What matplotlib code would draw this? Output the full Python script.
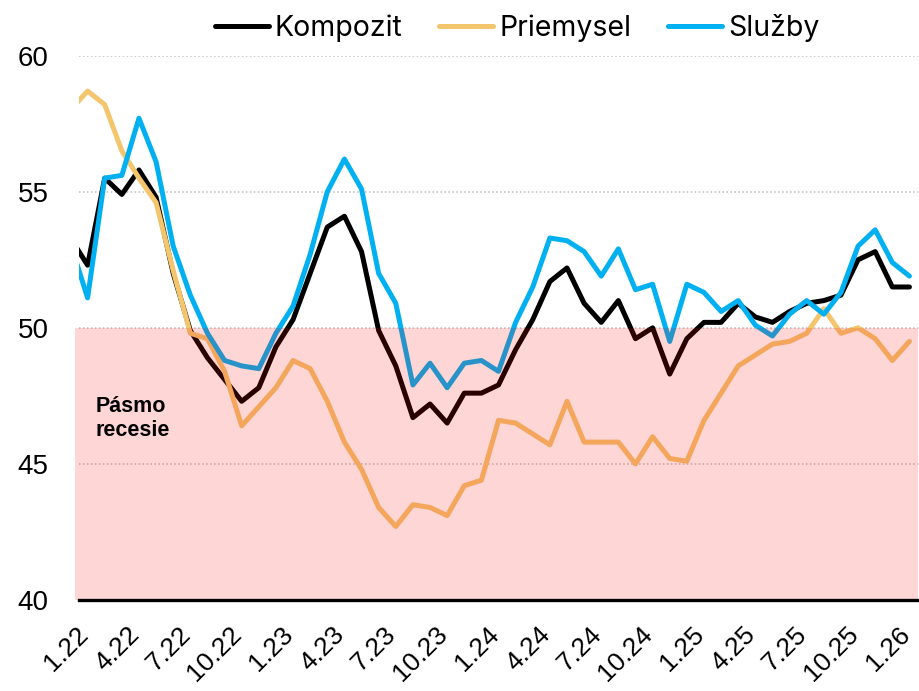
import matplotlib
matplotlib.use("Agg")
from matplotlib import pyplot as plt
from matplotlib.transforms import ScaledTranslation

# mesiace 12.21 .. 1.26 (prvy bod je za okrajom osi)
kompozit = [53.3,
            52.3, 55.5, 54.9, 55.8, 54.8, 52.0, 49.9, 48.9, 48.1, 47.3, 47.8, 49.3,
            50.3, 52.0, 53.7, 54.1, 52.8, 49.9, 48.6, 46.7, 47.2, 46.5, 47.6, 47.6,
            47.9, 49.2, 50.3, 51.7, 52.2, 50.9, 50.2, 51.0, 49.6, 50.0, 48.3, 49.6,
            50.2, 50.2, 50.9, 50.4, 50.2, 50.6, 50.9, 51.0, 51.2, 52.5, 52.8, 51.5,
            51.5]
priemysel = [58.0,
             58.7, 58.2, 56.5, 55.5, 54.6, 52.1, 49.8, 49.6, 48.4, 46.4, 47.1, 47.8,
             48.8, 48.5, 47.3, 45.8, 44.8, 43.4, 42.7, 43.5, 43.4, 43.1, 44.2, 44.4,
             46.6, 46.5, 46.1, 45.7, 47.3, 45.8, 45.8, 45.8, 45.0, 46.0, 45.2, 45.1,
             46.6, 47.6, 48.6, 49.0, 49.4, 49.5, 49.8, 50.7, 49.8, 50.0, 49.6, 48.8,
             49.5]
sluzby = [53.1,
          51.1, 55.5, 55.6, 57.7, 56.1, 53.0, 51.2, 49.8, 48.8, 48.6, 48.5, 49.8,
          50.8, 52.7, 55.0, 56.2, 55.1, 52.0, 50.9, 47.9, 48.7, 47.8, 48.7, 48.8,
          48.4, 50.2, 51.5, 53.3, 53.2, 52.8, 51.9, 52.9, 51.4, 51.6, 49.5, 51.6,
          51.3, 50.6, 51.0, 50.1, 49.7, 50.5, 51.0, 50.5, 51.3, 53.0, 53.6, 52.4,
          51.9]

tick_labels = ["1.22", "4.22", "7.22", "10.22", "1.23", "4.23", "7.23", "10.23",
               "1.24", "4.24", "7.24", "10.24", "1.25", "4.25", "7.25", "10.25", "1.26"]

x = list(range(-1, len(kompozit) - 1))

fig = plt.figure(figsize=(9.19, 6.91), dpi=100)
ax = fig.add_axes([0.086, 0.1317, 0.9129, 0.7878])

lw = 3.6
ax.plot(x, kompozit, color="black", lw=lw, label="Kompozit",
        solid_joinstyle="round", solid_capstyle="round", zorder=2)
ax.plot(x, priemysel, color="#F3C66E", lw=lw, label="Priemysel",
        solid_joinstyle="round", solid_capstyle="round", zorder=2)
ax.plot(x, sluzby, color="#00B0F0", lw=lw, label="Služby",
        solid_joinstyle="round", solid_capstyle="round", zorder=2)

# pasmo recesie - cervena priesvitna vrstva nad ciarami
ax.axhspan(40, 50, xmin=-0.005, xmax=1, color="red", alpha=0.16, lw=0,
           zorder=3, clip_on=False)
ax.text(0.45, 47.5, "Pásmo\nrecesie", fontsize=15.5, fontweight="bold",
        family="Liberation Sans", va="top", ha="left",
        linespacing=1.2, zorder=4)

ax.set_xlim(-0.5, 48.5)
ax.set_ylim(40, 60)
ax.set_yticks([40, 45, 50, 55, 60])
ax.set_xticks(range(0, 49, 3))
ax.set_xticklabels(tick_labels)

for y in [45, 50, 55, 60]:
    ax.axhline(y, color="#BDBDBD", lw=1.1, ls=(0, (1, 1.6)), zorder=1)

for s in ["top", "right", "left"]:
    ax.spines[s].set_visible(False)
ax.spines["bottom"].set_linewidth(2.4)
ax.spines["bottom"].set_zorder(5)

ax.tick_params(axis="both", length=0)
ax.tick_params(axis="y", pad=22)
ax.tick_params(axis="x", pad=16)
for lab in ax.get_yticklabels():
    lab.set_fontsize(20)
    lab.set_family("Liberation Sans")
for lab in ax.get_xticklabels():
    lab.set_fontsize(19)
    lab.set_family("Liberation Sans")
    lab.set_rotation(45)
    lab.set_ha("right")
    lab.set_va("top")
    lab.set_transform(lab.get_transform() + ScaledTranslation(0.05, 0, fig.dpi_scale_trans))

fig.legend(loc="center", bbox_to_anchor=(0.5626, 0.9595), ncol=3, frameon=False,
           prop={"family": "Inter", "size": 20.5}, handlelength=1.9,
           handletextpad=0.2, columnspacing=1.3)

fig.savefig("out.png", dpi=100)
